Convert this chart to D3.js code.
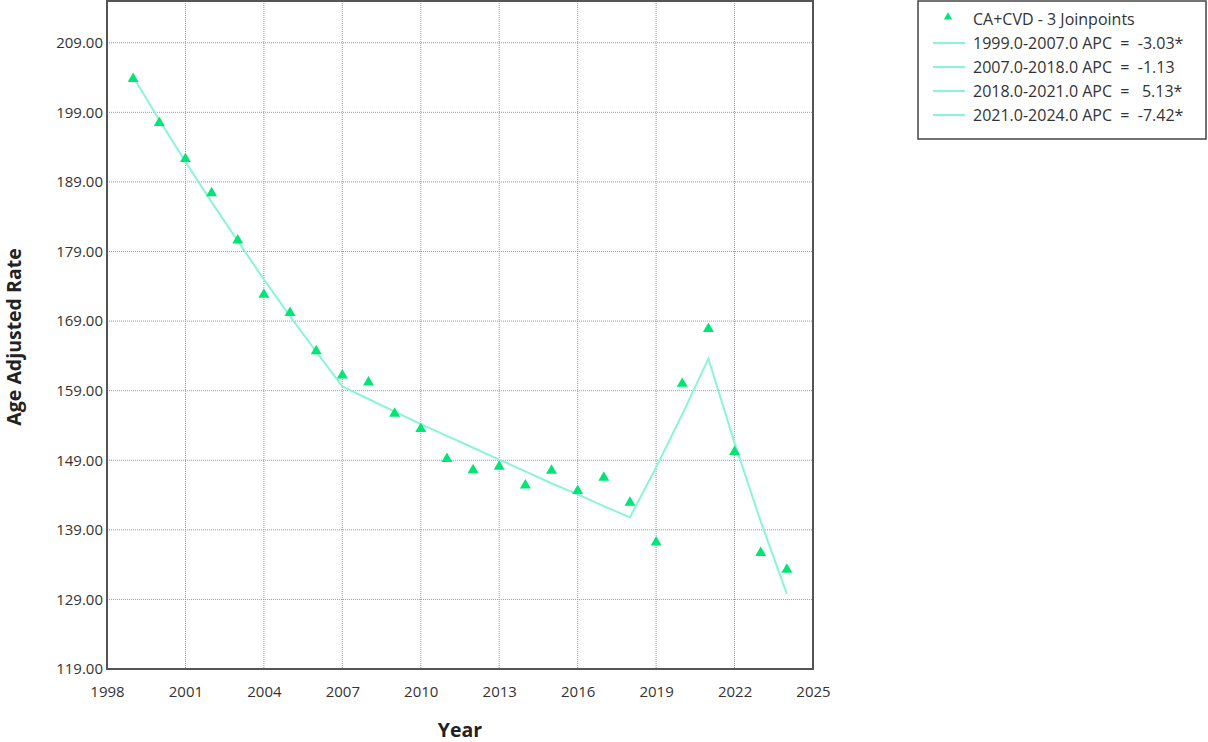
<!DOCTYPE html>
<html><head><meta charset="utf-8">
<script src="https://cdn.jsdelivr.net/npm/d3@7"></script>
<style>body{margin:0;background:#fff}svg{display:block}</style>
</head><body>
<svg id="c" width="1208" height="742"></svg>
<script>
const years = [1999,2000,2001,2002,2003,2004,2005,2006,2007,2008,2009,2010,2011,2012,2013,2014,2015,2016,2017,2018,2019,2020,2021,2022,2023,2024];
const observed = [203.8,197.5,192.3,187.4,180.6,172.8,170.2,164.7,161.2,160.2,155.7,153.5,149.2,147.6,148.1,145.4,147.5,144.6,146.5,142.9,137.2,160.0,167.9,150.2,135.7,133.3];
const fitted = [204.1,197.9,191.9,186.1,180.5,175.0,169.7,164.6,159.6,157.8,156.0,154.2,152.5,150.8,149.1,147.4,145.7,144.1,142.4,140.8,148.0,155.6,163.6,151.5,140.2,129.8];
const yTicks = [119,129,139,149,159,169,179,189,199,209];
const xTicks = [1998,2001,2004,2007,2010,2013,2016,2019,2022,2025];
const legendLabels = ["CA+CVD - 3 Joinpoints","1999.0-2007.0 APC  =  -3.03*","2007.0-2018.0 APC  =  -1.13","2018.0-2021.0 APC  =   5.13*","2021.0-2024.0 APC  =  -7.42*"];

const svg = d3.select("#c");
const L=107, R=813, T=1, B=669;
const x = d3.scaleLinear().domain([1998,2025]).range([L,R]);
const y = d3.scaleLinear().domain([119,215]).range([B,T]);
const font = "'Open Sans', 'Noto Sans', sans-serif";
const ptColor = "#00e676", lineColor = "#8af5d6";

// grid
const g = svg.append("g");
g.selectAll(".gy").data(yTicks.filter(v=>v>119)).join("line")
  .attr("x1",L).attr("x2",R).attr("y1",d=>y(d)).attr("y2",d=>y(d))
  .attr("stroke","#999").attr("stroke-width",1).attr("stroke-dasharray","1,1");
g.selectAll(".gx").data(xTicks.filter(v=>v>1998&&v<2025)).join("line")
  .attr("y1",T).attr("y2",B).attr("x1",d=>x(d)).attr("x2",d=>x(d))
  .attr("stroke","#999").attr("stroke-width",1).attr("stroke-dasharray","1,1");

// axes
const ya = svg.append("g").attr("transform",`translate(${L},0)`)
  .call(d3.axisLeft(y).tickValues(yTicks).tickFormat(d3.format(".2f")).tickSize(0).tickPadding(4));
const xa = svg.append("g").attr("transform",`translate(0,${B})`)
  .call(d3.axisBottom(x).tickValues(xTicks).tickFormat(d3.format("d")).tickSize(0).tickPadding(17));
[ya,xa].forEach(a=>{a.select(".domain").remove();a.selectAll("text").attr("font-family",font).attr("font-size",15).attr("fill","#333");});

// frame
svg.append("rect").attr("x",L).attr("y",T).attr("width",R-L).attr("height",B-T)
  .attr("fill","none").attr("stroke","#555").attr("stroke-width",2);

// fitted line
svg.append("path").datum(years.map((yr,i)=>[yr,fitted[i]]))
  .attr("d",d3.line().x(d=>x(d[0])).y(d=>y(d[1])))
  .attr("fill","none").attr("stroke",lineColor).attr("stroke-width",2);

// points
const tri = d3.symbol().type(d3.symbolTriangle).size(52);
svg.selectAll(".pt").data(years.map((yr,i)=>[yr,observed[i]])).join("path")
  .attr("d",tri).attr("transform",d=>`translate(${x(d[0])},${y(d[1])})`).attr("fill",ptColor);

// axis titles
svg.append("text").attr("transform","translate(21,337) rotate(-90)").attr("text-anchor","middle")
  .attr("font-family",font).attr("font-size",19.5).attr("font-weight","bold").attr("fill","#222").text("Age Adjusted Rate");
svg.append("text").attr("x",460).attr("y",737).attr("text-anchor","middle")
  .attr("font-family",font).attr("font-size",19.5).attr("font-weight","bold").attr("fill","#222").text("Year");

// legend
const lg = svg.append("g");
lg.append("rect").attr("x",918).attr("y",1).attr("width",288).attr("height",138)
  .attr("fill","#fff").attr("stroke","#444").attr("stroke-width",1.5);
legendLabels.forEach((t,i)=>{
  const cy = 19 + i*24;
  if(i===0){
    lg.append("path").attr("d",d3.symbol().type(d3.symbolTriangle).size(30)).attr("transform",`translate(948,${cy-2})`).attr("fill",ptColor);
  } else {
    lg.append("line").attr("x1",933).attr("x2",965).attr("y1",cy).attr("y2",cy).attr("stroke",lineColor).attr("stroke-width",2);
  }
  lg.append("text").attr("x",973).attr("y",cy+5.5).attr("xml:space","preserve").style("white-space","pre")
    .attr("font-family",font).attr("font-size",16).attr("fill","#333").text(t);
});
</script>
</body></html>
